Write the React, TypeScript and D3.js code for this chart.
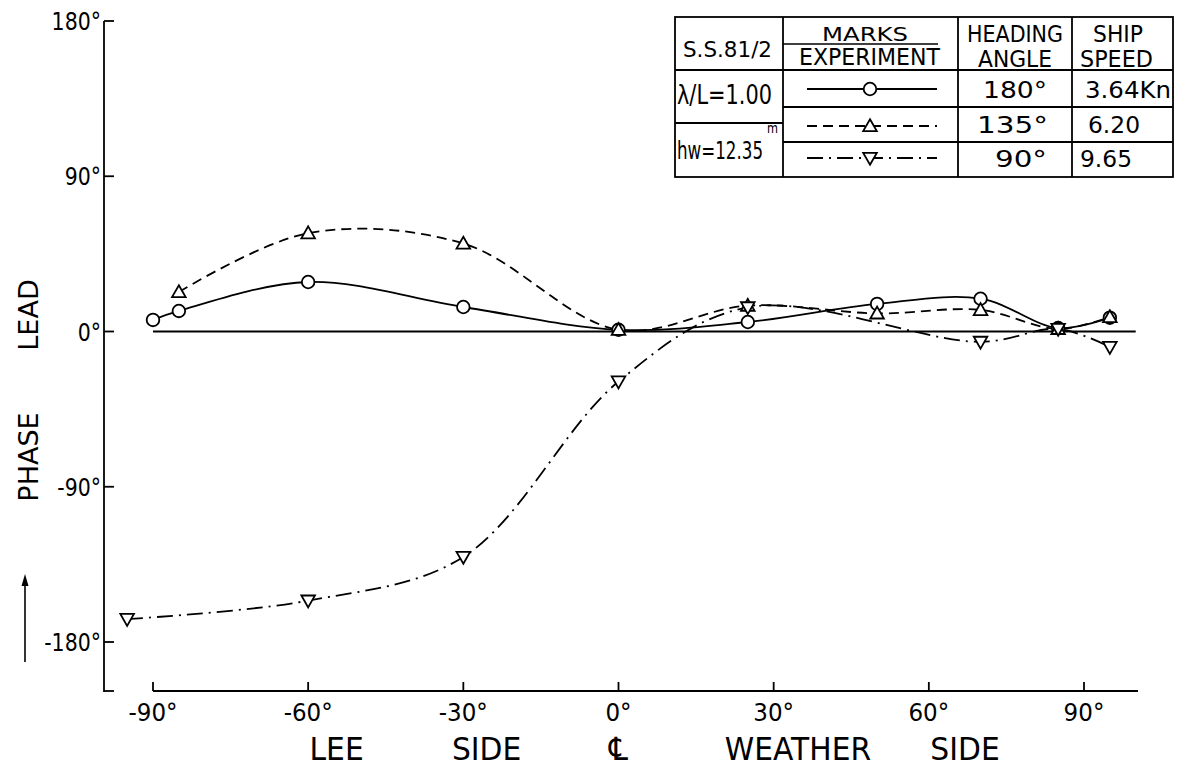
import React from "react";
import * as d3 from "d3";

// ---- data ----
const headingCircle = [-90, -85, -60, -30, 0, 25, 50, 70, 85, 95];
const phaseCircle = [6.7, 11.9, 28.7, 14.2, 1, 5.5, 16, 19, 2, 8];

const headingTriUp = [-85, -60, -30, 0, 25, 50, 70, 85, 95];
const phaseTriUp = [22.9, 57, 51, 1, 15, 10.5, 12.5, 1.5, 8.4];

const headingTriDown = [-95, -60, -30, 0, 25, 70, 85, 95];
const phaseTriDown = [-166.7, -156, -130.7, -29, 14, -6, 1.5, -9];

const xTicks = [-90, -60, -30, 0, 30, 60, 90];
const xTickLabels = ["-90°", "-60°", "-30°", "0°", "30°", "60°", "90°"];
const yTicks = [180, 90, 0, -90, -180];
const yTickLabels = ["180°", "90°", "0°", "-90°", "-180°"];
const zeroLineSpan = [-90, 100];
const bottomLabels = ["LEE", "SIDE", "℄", "WEATHER", "SIDE"];
const bottomLabelPos = [-54.5, -25.5, 0, 34.7, 67];

const legendHeadings = ["180°", "135°", "90°"];
const legendSpeeds = ["3.64Kn", "6.20", "9.65"];

const FONT = "'DejaVu Sans', 'Liberation Sans', sans-serif";

const W = 1181;
const H = 766;

const x = d3.scaleLinear().domain([-90, 90]).range([153, 1084]);
const y = d3.scaleLinear().domain([-180, 180]).range([642, 21]);
const AXIS_Y = 691;
const AXIS_X = 104;

type Pt = [number, number];
const zip = (a: number[], b: number[]): Pt[] => a.map((v, i) => [v, b[i]]);

const lineGen = d3
  .line<Pt>()
  .x((d) => x(d[0]))
  .y((d) => y(d[1]))
  .curve(d3.curveCatmullRom.alpha(0.5));

const circlePts = zip(headingCircle, phaseCircle);
const triUpPts = zip(headingTriUp, phaseTriUp);
const triDownPts = zip(headingTriDown, phaseTriDown);

const SW = 1.8;
const DASH = "10,6";
const DASHDOT = "16,6,2,6";

function Circle({ cx, cy }: { cx: number; cy: number }) {
  return <circle cx={cx} cy={cy} r={6.3} fill="white" stroke="black" strokeWidth={SW} />;
}
function TriUp({ cx, cy }: { cx: number; cy: number }) {
  const s = 6.8;
  return (
    <path
      d={`M${cx},${cy - s} L${cx + s},${cy + s * 0.75} L${cx - s},${cy + s * 0.75} Z`}
      fill="white"
      stroke="black"
      strokeWidth={SW}
    />
  );
}
function TriDown({ cx, cy }: { cx: number; cy: number }) {
  const s = 6.8;
  return (
    <path
      d={`M${cx},${cy + s} L${cx + s},${cy - s * 0.75} L${cx - s},${cy - s * 0.75} Z`}
      fill="white"
      stroke="black"
      strokeWidth={SW}
    />
  );
}

// text fitted to a box: left x, right x, baseline, font size
function FitText({
  x0,
  x1,
  base,
  size,
  children,
}: {
  x0: number;
  x1: number;
  base: number;
  size: number;
  children: React.ReactNode;
}) {
  return (
    <text
      x={x0}
      y={base}
      fontSize={size}
      fontFamily={FONT}
      textLength={x1 - x0}
      lengthAdjust="spacingAndGlyphs"
    >
      {children}
    </text>
  );
}

// horizontally scaled text
function SText({
  px,
  py,
  size,
  sx,
  anchor,
  children,
}: {
  px: number;
  py: number;
  size: number;
  sx: number;
  anchor: "start" | "middle" | "end";
  children: React.ReactNode;
}) {
  return (
    <text
      transform={`translate(${px},${py}) scale(${sx},1)`}
      fontSize={size}
      fontFamily={FONT}
      textAnchor={anchor}
    >
      {children}
    </text>
  );
}

function Legend() {
  const L = 675, R = 1173, T = 17, B = 177;
  const c1 = 783, c2 = 958, c3 = 1072;
  const r1 = 70, r2 = 107, r3 = 142, split = 123;
  const lineY = [89, 126, 158];
  const bases = [98, 133, 167];
  const headSpans: [number, number][] = [
    [983, 1047],
    [977, 1048],
    [995, 1047],
  ];
  const speedSpans: [number, number][] = [
    [1085, 1171],
    [1088, 1140],
    [1080, 1132],
  ];
  const dashes = ["none", DASH, DASHDOT];
  const lx0 = 807, lx1 = 937, mx = 870;
  return (
    <g fill="black">
      <rect x={L} y={T} width={R - L} height={B - T} fill="white" stroke="black" strokeWidth={SW} />
      <line x1={L} x2={R} y1={r1} y2={r1} stroke="black" strokeWidth={SW} />
      <line x1={c1} x2={R} y1={r2} y2={r2} stroke="black" strokeWidth={SW} />
      <line x1={c1} x2={R} y1={r3} y2={r3} stroke="black" strokeWidth={SW} />
      <line x1={L} x2={c1} y1={split} y2={split} stroke="black" strokeWidth={SW} />
      <line x1={c1} x2={c1} y1={T} y2={B} stroke="black" strokeWidth={SW} />
      <line x1={c2} x2={c2} y1={T} y2={B} stroke="black" strokeWidth={SW} />
      <line x1={c3} x2={c3} y1={T} y2={B} stroke="black" strokeWidth={SW} />
      <line x1={c1} x2={c2 - 20} y1={44} y2={44} stroke="black" strokeWidth={1.5} />
      <FitText x0={683} x1={772} base={57} size={21}>S.S.81/2</FitText>
      <FitText x0={822} x1={908} base={41} size={20}>MARKS</FitText>
      <FitText x0={799} x1={940} base={65} size={23}>EXPERIMENT</FitText>
      <FitText x0={967} x1={1063} base={42} size={23}>HEADING</FitText>
      <FitText x0={978} x1={1052} base={67} size={23}>ANGLE</FitText>
      <FitText x0={1093} x1={1143} base={42} size={23}>SHIP</FitText>
      <FitText x0={1080} x1={1153} base={67} size={23}>SPEED</FitText>
      <FitText x0={677} x1={772} base={104} size={26}>λ/L=1.00</FitText>
      <FitText x0={677} x1={763} base={159} size={25}>hw=12.35</FitText>
      <FitText x0={767} x1={778} base={133} size={14}>m</FitText>
      {lineY.map((ry, i) => (
        <g key={i}>
          <line x1={lx0} x2={lx1} y1={ry} y2={ry} stroke="black" strokeWidth={SW} strokeDasharray={dashes[i]} />
          {i === 0 && <Circle cx={mx} cy={ry} />}
          {i === 1 && <TriUp cx={mx} cy={ry} />}
          {i === 2 && <TriDown cx={mx} cy={ry} />}
          <FitText x0={headSpans[i][0]} x1={headSpans[i][1]} base={bases[i]} size={23}>
            {legendHeadings[i]}
          </FitText>
          <FitText x0={speedSpans[i][0]} x1={speedSpans[i][1]} base={bases[i]} size={23}>
            {legendSpeeds[i]}
          </FitText>
        </g>
      ))}
    </g>
  );
}

export default function App() {
  return (
    <svg
      width={W}
      height={H}
      viewBox={`0 0 ${W} ${H}`}
      style={{ position: "absolute", left: 0, top: 0, background: "white" }}
    >
      <rect width={W} height={H} fill="white" />
      {/* y axis */}
      <line x1={AXIS_X} x2={AXIS_X} y1={y(180)} y2={AXIS_Y + 1} stroke="black" strokeWidth={SW} />
      <line x1={AXIS_X} x2={AXIS_X + 10} y1={AXIS_Y} y2={AXIS_Y} stroke="black" strokeWidth={SW} />
      {yTicks.map((t, i) => (
        <g key={t}>
          <line x1={AXIS_X} x2={AXIS_X + 10} y1={y(t)} y2={y(t)} stroke="black" strokeWidth={SW} />
          <SText px={AXIS_X - 3} py={y(t) + 9} size={25} sx={0.82} anchor="end">
            {yTickLabels[i]}
          </SText>
        </g>
      ))}
      {/* x axis */}
      <line x1={x(-90)} x2={1138} y1={AXIS_Y} y2={AXIS_Y} stroke="black" strokeWidth={SW} />
      {xTicks.map((t, i) => (
        <g key={t}>
          <line x1={x(t)} x2={x(t)} y1={AXIS_Y} y2={AXIS_Y - 9} stroke="black" strokeWidth={SW} />
          <SText px={x(t)} py={AXIS_Y + 30} size={25} sx={0.92} anchor="middle">
            {xTickLabels[i]}
          </SText>
        </g>
      ))}
      {bottomLabels.map((s, i) => (
        <SText key={i} px={x(bottomLabelPos[i])} py={760} size={32} sx={0.93} anchor="middle">
          {s}
        </SText>
      ))}
      {/* y title */}
      <text
        transform={`translate(38,${315}) rotate(-90)`}
        fontSize={27}
        fontFamily={FONT}
        textAnchor="middle"
      >
        LEAD
      </text>
      <text
        transform={`translate(38,${457}) rotate(-90)`}
        fontSize={27}
        fontFamily={FONT}
        textAnchor="middle"
      >
        PHASE
      </text>
      <line x1={25} x2={25} y1={662} y2={582} stroke="black" strokeWidth={1.6} />
      <path d="M25,574 L21.5,586 L28.5,586 Z" fill="black" />
      {/* zero line */}
      <line
        x1={x(zeroLineSpan[0])}
        x2={x(zeroLineSpan[1])}
        y1={y(0)}
        y2={y(0)}
        stroke="black"
        strokeWidth={SW}
      />
      {/* curves */}
      <path d={lineGen(circlePts) || ""} fill="none" stroke="black" strokeWidth={SW} />
      <path d={lineGen(triUpPts) || ""} fill="none" stroke="black" strokeWidth={SW} strokeDasharray={DASH} />
      <path d={lineGen(triDownPts) || ""} fill="none" stroke="black" strokeWidth={SW} strokeDasharray={DASHDOT} />
      {circlePts.map((p, i) => (
        <Circle key={"c" + i} cx={x(p[0])} cy={y(p[1])} />
      ))}
      {triUpPts.map((p, i) => (
        <TriUp key={"u" + i} cx={x(p[0])} cy={y(p[1])} />
      ))}
      {triDownPts.map((p, i) => (
        <TriDown key={"d" + i} cx={x(p[0])} cy={y(p[1])} />
      ))}
      <Legend />
    </svg>
  );
}
